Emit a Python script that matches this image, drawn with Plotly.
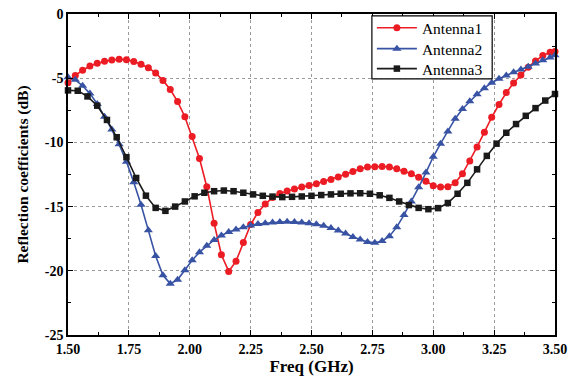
import plotly.graph_objects as go

# Frequencies (GHz)
FREQ_12 = [1.50, 1.53, 1.56, 1.59, 1.62, 1.65, 1.68, 1.71, 1.74, 1.77,
           1.80, 1.83, 1.86, 1.89, 1.92, 1.95, 1.98, 2.01, 2.04, 2.07,
           2.10, 2.13, 2.16, 2.19, 2.22, 2.25, 2.28, 2.31, 2.34, 2.37,
           2.40, 2.43, 2.46, 2.49, 2.52, 2.55, 2.58, 2.61, 2.64, 2.67,
           2.70, 2.73, 2.76, 2.79, 2.82, 2.85, 2.88, 2.91, 2.94, 2.97,
           3.00, 3.03, 3.06, 3.09, 3.12, 3.15, 3.18, 3.21, 3.24, 3.27,
           3.30, 3.33, 3.36, 3.39, 3.42, 3.45, 3.48, 3.50]

FREQ_3 = [1.50, 1.54, 1.58, 1.62, 1.66, 1.70, 1.74, 1.78, 1.82, 1.86,
          1.90, 1.94, 1.98, 2.02, 2.06, 2.10, 2.14, 2.18, 2.22, 2.26,
          2.30, 2.34, 2.38, 2.42, 2.46, 2.50, 2.54, 2.58, 2.62, 2.66,
          2.70, 2.74, 2.78, 2.82, 2.86, 2.90, 2.94, 2.98, 3.02, 3.06,
          3.10, 3.14, 3.18, 3.22, 3.26, 3.30, 3.34, 3.38, 3.42, 3.46, 3.50]

ANTENNA1 = [-5.35, -4.78, -4.38, -4.05, -3.83, -3.68, -3.58, -3.53, -3.57, -3.69,
            -3.92, -4.18, -4.60, -5.17, -5.88, -6.82, -8.00, -9.55, -11.25, -13.45,
            -16.30, -18.75, -20.05, -19.25, -17.80, -16.40, -15.45, -14.80, -14.30, -13.98,
            -13.78, -13.62, -13.47, -13.36, -13.22, -13.05, -12.88, -12.69, -12.49, -12.27,
            -12.06, -11.92, -11.90, -11.88, -11.92, -12.06, -12.24, -12.45, -12.72, -13.03,
            -13.38, -13.47, -13.45, -13.15, -12.45, -11.45, -10.35, -9.20, -8.05, -7.05,
            -6.12, -5.38, -4.76, -4.15, -3.66, -3.24, -2.98, -2.92]

ANTENNA2 = [-4.92, -5.13, -5.59, -6.20, -7.00, -8.00, -9.00, -10.15, -11.50, -13.10,
            -14.85, -16.85, -18.85, -20.35, -21.00, -20.70, -19.95, -19.18, -18.55, -18.05,
            -17.60, -17.25, -16.98, -16.78, -16.60, -16.47, -16.36, -16.29, -16.23, -16.20,
            -16.18, -16.19, -16.23, -16.30, -16.37, -16.50, -16.66, -16.87, -17.10, -17.37,
            -17.57, -17.75, -17.82, -17.68, -17.30, -16.60, -15.65, -14.60, -13.50, -12.35,
            -11.12, -10.10, -9.15, -8.15, -7.40, -6.80, -6.25, -5.78, -5.35, -5.05,
            -4.78, -4.53, -4.32, -4.10, -3.85, -3.60, -3.38, -3.22]

ANTENNA3 = [-5.95, -5.98, -6.42, -7.14, -8.25, -9.60, -11.15, -12.77, -14.15, -15.10,
            -15.33, -15.00, -14.60, -14.20, -13.92, -13.80, -13.75, -13.80, -13.92, -14.05,
            -14.16, -14.22, -14.26, -14.24, -14.21, -14.16, -14.10, -14.05, -14.00, -13.97,
            -13.96, -14.00, -14.12, -14.32, -14.60, -14.88, -15.10, -15.20, -15.12, -14.72,
            -14.00, -13.15, -12.10, -11.05, -10.10, -9.25, -8.57, -7.93, -7.33, -6.74, -6.23]

X_TICKS = [1.50, 1.75, 2.00, 2.25, 2.50, 2.75, 3.00, 3.25, 3.50]
X_TICKTEXT = ["1.50", "1.75", "2.00", "2.25", "2.50", "2.75", "3.00", "3.25", "3.50"]
Y_TICKS = [0, -5, -10, -15, -20, -25]
Y_TICKTEXT = ["0", "-5", "-10", "-15", "-20", "-25"]

SERIF = "Liberation Serif"

fig = go.Figure()
fig.add_trace(go.Scatter(x=FREQ_12, y=ANTENNA1, name="Antenna1", mode="lines+markers",
                         line=dict(color="#ec1c24", width=1.6),
                         marker=dict(symbol="circle", size=7, color="#ec1c24"),
                         cliponaxis=False, legend="legend"))
fig.add_trace(go.Scatter(x=FREQ_12, y=ANTENNA2, name="Antenna2", mode="lines+markers",
                         line=dict(color="#3853a4", width=1.6),
                         marker=dict(symbol="triangle-up", size=8, color="#3853a4"),
                         cliponaxis=False, legend="legend2"))
fig.add_trace(go.Scatter(x=FREQ_3, y=ANTENNA3, name="Antenna3", mode="lines+markers",
                         line=dict(color="#1a1a1a", width=1.6),
                         marker=dict(symbol="square", size=6.5, color="#1a1a1a"),
                         cliponaxis=False, legend="legend3"))

axis_common = dict(
    showline=True, linecolor="black", linewidth=1.5, mirror="allticks",
    ticks="inside", ticklen=5, tickwidth=1.2, tickcolor="black",
    showgrid=True, gridcolor="#9a9a9a", gridwidth=1, griddash="dot",
    zeroline=False, automargin=False,
    tickfont=dict(family=SERIF, size=14, color="black", weight="bold"),
)

fig.update_xaxes(range=[1.5, 3.5], tickvals=X_TICKS, ticktext=X_TICKTEXT,
                 minor=dict(ticks="inside", ticklen=3, dtick=0.125, tick0=1.5,
                            tickcolor="black", showgrid=False),
                 title=dict(text="Freq (GHz)", standoff=2,
                            font=dict(family=SERIF, size=17, color="black", weight="bold")),
                 **axis_common)
fig.update_yaxes(range=[-25, 0], tickvals=Y_TICKS, ticktext=Y_TICKTEXT,
                 minor=dict(ticks="inside", ticklen=3, dtick=2.5, tick0=0,
                            tickcolor="black", showgrid=False),
                 title=dict(text="Reflection coefficients (dB)", standoff=12,
                            font=dict(family=SERIF, size=15.5, color="black", weight="bold")),
                 **axis_common)

# legend frame (white box with black border) drawn behind the legend entries
fig.add_shape(type="rect", xref="paper", yref="paper",
              x0=0.624, x1=0.871, y0=0.798, y1=0.994,
              line=dict(color="black", width=1.2), fillcolor="white", layer="above")

legend_common = dict(x=0.624, xanchor="left", yanchor="middle",
                     bgcolor="rgba(0,0,0,0)", borderwidth=0,
                     font=dict(family=SERIF, size=15.5, color="black"),
                     itemwidth=40)

fig.update_layout(
    width=569, height=377,
    margin=dict(l=68, r=14, t=13, b=42),
    paper_bgcolor="white", plot_bgcolor="white",
    font=dict(family=SERIF, color="black"),
    showlegend=True,
    legend=dict(y=0.953, **legend_common),
    legend2=dict(y=0.888, **legend_common),
    legend3=dict(y=0.826, **legend_common),
)

fig.write_html("out.html")
